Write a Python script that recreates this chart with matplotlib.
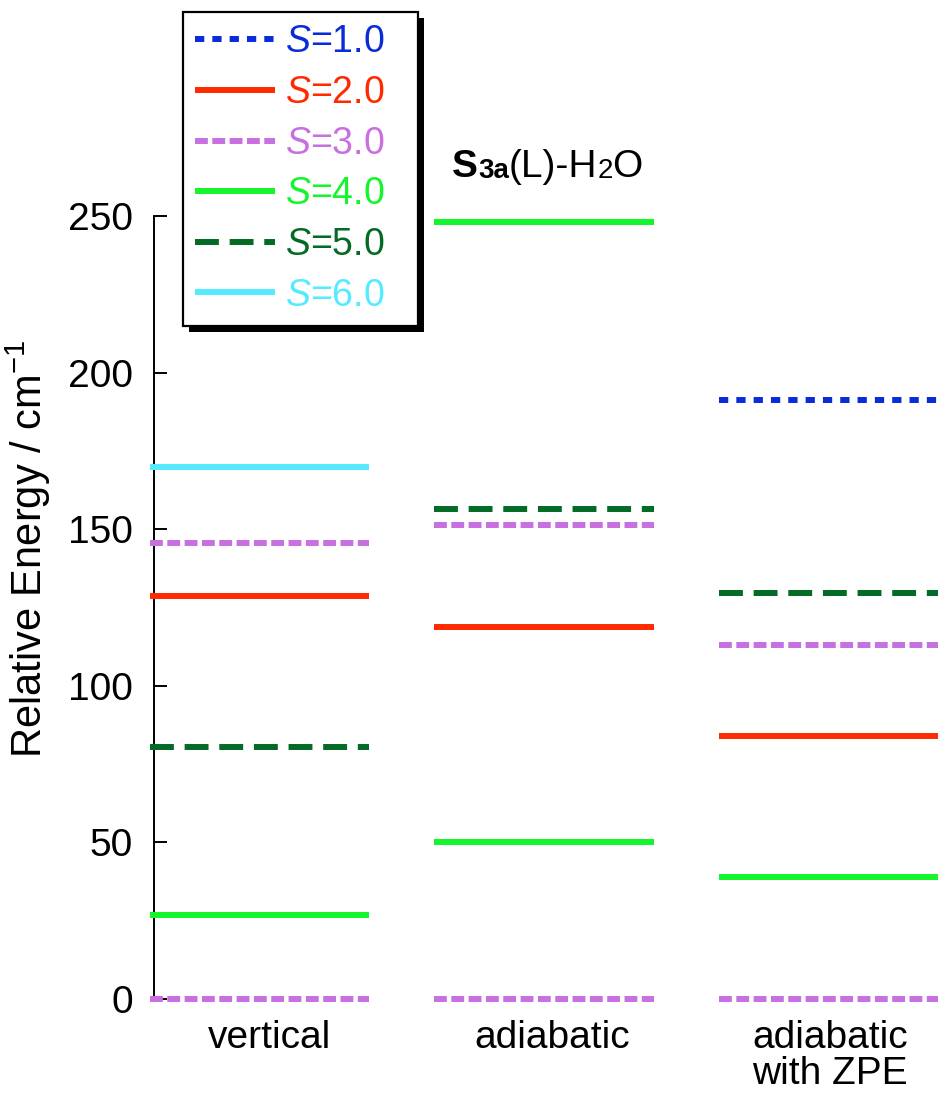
import matplotlib
matplotlib.use("Agg")
import matplotlib.pyplot as plt
from matplotlib.patches import Rectangle

plt.rcParams['font.family'] = ['Liberation Sans', 'DejaVu Sans']
plt.rcParams['mathtext.fontset'] = 'custom'
plt.rcParams['mathtext.rm'] = 'Liberation Sans'
plt.rcParams['mathtext.it'] = 'Liberation Sans:italic'
plt.rcParams['mathtext.bf'] = 'Liberation Sans:bold'

# ---------------- data ----------------
categories = ["vertical", "adiabatic", "adiabatic\nwith ZPE"]
spins = [1.0, 2.0, 3.0, 4.0, 5.0, 6.0]

vertical_S = [3.0, 4.0, 5.0, 2.0, 3.0, 6.0]
vertical_E = [0.0, 26.8, 80.5, 128.7, 145.6, 170.0]

adiabatic_S = [3.0, 4.0, 2.0, 3.0, 5.0, 4.0]
adiabatic_E = [0.0, 50.1, 118.8, 151.3, 156.4, 248.1]

zpe_S = [3.0, 4.0, 2.0, 3.0, 5.0, 1.0]
zpe_E = [0.0, 39.0, 84.0, 113.0, 129.6, 191.3]

yticks = [0, 50, 100, 150, 200, 250]

# title pieces: (text, weight, size, baseline shift px)
title_parts = [("S", 'bold', 28, 0), ("3a", 'bold', 20, -1),
               ("(L)-H", 'normal', 28, 0), ("2", 'normal', 20, -1),
               ("O", 'normal', 28, 0)]

# ---------------- styles ----------------
colors = {1.0: '#0A2BD8', 2.0: '#FF2A00', 3.0: '#C870E0',
          4.0: '#14F52D', 5.0: '#036B25', 6.0: '#55EBFF'}
LW = 4.3
styles = {1.0: (0, (1.55, 1.35)), 2.0: '-', 3.0: (0, (2.15, 0.75)),
          4.0: '-', 5.0: (0, (4.0, 1.8)), 6.0: '-'}
half_w = 0.385
label_shift = [0.035, 0.03, 0.005]

fig = plt.figure(figsize=(9.39, 10.95), dpi=100)
ax = fig.add_axes([154/939, 1-999/1095, 1-154/939, (999-216)/1095])

for xi, (S_list, E_list) in enumerate([(vertical_S, vertical_E),
                                        (adiabatic_S, adiabatic_E),
                                        (zpe_S, zpe_E)]):
    for s, e in zip(S_list, E_list):
        ax.plot([xi - half_w, xi + half_w], [e, e], color=colors[s],
                linestyle=styles[s], lw=LW, solid_capstyle='butt',
                dash_capstyle='butt', clip_on=False, zorder=3)

# legend handles
handles = []
for s in spins:
    h, = ax.plot([], [], color=colors[s], linestyle=styles[s], lw=LW,
                 solid_capstyle='butt', dash_capstyle='butt',
                 label=r"$S$=%.1f" % s)
    handles.append(h)

ax.set_xlim(-0.37, 2.387)
ax.set_ylim(0, 250)
ax.set_yticks(yticks)
ax.set_xticks([i + d for i, d in zip(range(len(categories)), label_shift)])
ax.set_xticklabels(categories, linespacing=1.0)
ax.tick_params(axis='y', direction='in', length=9.5, width=1.4,
               labelsize=28, pad=15)
ax.tick_params(axis='x', length=0, labelsize=28, pad=15)
for sp in ['top', 'right', 'bottom']:
    ax.spines[sp].set_visible(False)
ax.spines['left'].set_linewidth(1.4)

ax.set_ylabel(r"Relative Energy / cm$^{-1}$", fontsize=30)
ax.yaxis.set_label_coords(-0.129, 0.575)

top = 1 - 12/1095
leg = ax.legend(handles=handles, loc='upper left',
                bbox_to_anchor=(183/939, 0.5, 235/939, top - 0.5),
                bbox_transform=fig.transFigure, borderaxespad=0,
                mode='expand',
                fontsize=27, handlelength=2.13, handletextpad=0.25,
                labelspacing=0.39, borderpad=0.33, fancybox=False,
                framealpha=1, edgecolor='black', labelcolor='linecolor')
leg.get_frame().set_linewidth(1.6)
leg.set_zorder(10)

# title built from pieces
fig.canvas.draw()
renderer = fig.canvas.get_renderer()
x_px = 452
base_px = 1095 - 177
for txt, wt, sz, dy in title_parts:
    t = fig.text(x_px/939, (base_px + dy)/1095, txt, fontsize=sz,
                 fontweight=wt, ha='left', va='baseline')
    w = t.get_window_extent(renderer).width
    x_px += w

# shadow behind the legend
fig.canvas.draw()
bb = leg.get_frame().get_window_extent(renderer)
off = 6
p0 = ax.transAxes.inverted().transform((bb.x0 + off, bb.y0 - off))
p1 = ax.transAxes.inverted().transform((bb.x1 + off, bb.y1 - off))
ax.add_patch(Rectangle(p0, p1[0]-p0[0], p1[1]-p0[1], transform=ax.transAxes,
                       facecolor='black', edgecolor='none', zorder=9,
                       clip_on=False))

fig.savefig("out.png", dpi=100)
